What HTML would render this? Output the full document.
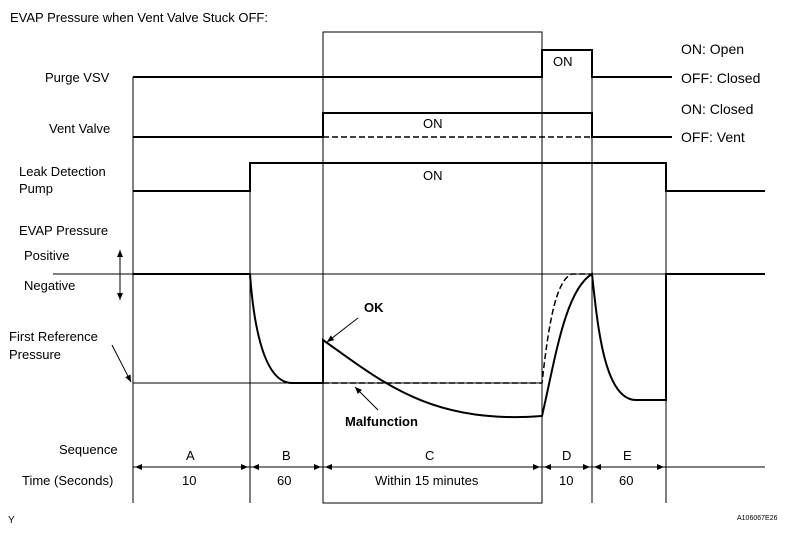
<!DOCTYPE html>
<html><head><style>body{margin:0;background:#fff}svg{display:block}text{font-family:"Liberation Sans",sans-serif;font-size:13px;fill:#000}</style></head><body>
<svg width="791" height="533" viewBox="0 0 791 533">
<defs><marker id="a" markerWidth="8" markerHeight="8" refX="7" refY="4" orient="auto"><path d="M0,1 L7,4 L0,7z" fill="#000"/></marker></defs>
<g stroke="#000" fill="none" stroke-width="1">
<line x1="133" y1="77" x2="133" y2="503"/><line x1="250" y1="190" x2="250" y2="503"/>
<rect x="323" y="32" width="219" height="471"/>
<line x1="592" y1="77" x2="592" y2="503"/><line x1="666" y1="163" x2="666" y2="503"/>
<line x1="133" y1="467" x2="765" y2="467"/>
<line x1="53" y1="274" x2="765" y2="274"/>
<line x1="133" y1="383" x2="542" y2="383"/>
</g>
<g stroke="#000" fill="none" stroke-width="2">
<path d="M133,77 H542 V50 H592 V77 H672"/>
<path d="M133,137 H323 V113 H592 V137 H672"/>
<path d="M323,137 H592" stroke-dasharray="6,3" stroke-width="1.5"/>
<path d="M133,191 H250 V163 H666 V191 H765"/>
<path d="M133,274 H250 C254,330 265,383 292,383 H323 V340 C380,380 430,425 542,416 C555,360 565,290 592,274 C598,330 605,400 636,400 H666 V274 H765"/>
<path d="M323,383 H542 C548,330 555,280 572,274 H592" stroke-dasharray="6,3" stroke-width="1.5"/>
</g>
<g stroke="#000" stroke-width="1">
<line x1="120" y1="262" x2="120" y2="250" marker-end="url(#a)"/><line x1="120" y1="262" x2="120" y2="300" marker-end="url(#a)"/>
<line x1="112" y1="345" x2="131" y2="382" marker-end="url(#a)"/>
<line x1="358" y1="318" x2="327" y2="342" marker-end="url(#a)"/>
<line x1="378" y1="410" x2="355" y2="387" marker-end="url(#a)"/>
<line x1="190" y1="467" x2="135" y2="467" marker-end="url(#a)"/><line x1="190" y1="467" x2="248" y2="467" marker-end="url(#a)"/>
<line x1="286" y1="467" x2="252" y2="467" marker-end="url(#a)"/><line x1="286" y1="467" x2="321" y2="467" marker-end="url(#a)"/>
<line x1="430" y1="467" x2="325" y2="467" marker-end="url(#a)"/><line x1="430" y1="467" x2="540" y2="467" marker-end="url(#a)"/>
<line x1="567" y1="467" x2="544" y2="467" marker-end="url(#a)"/><line x1="567" y1="467" x2="590" y2="467" marker-end="url(#a)"/>
<line x1="628" y1="467" x2="594" y2="467" marker-end="url(#a)"/><line x1="628" y1="467" x2="664" y2="467" marker-end="url(#a)"/>
</g>
<text x="10" y="22">EVAP Pressure when Vent Valve Stuck OFF:</text>
<text x="45" y="82">Purge VSV</text>
<text x="49" y="133">Vent Valve</text>
<text x="19" y="176">Leak Detection</text><text x="19" y="193">Pump</text>
<text x="19" y="235">EVAP Pressure</text>
<text x="24" y="260">Positive</text><text x="24" y="290">Negative</text>
<text x="9" y="341">First Reference</text><text x="9" y="359">Pressure</text>
<text x="59" y="454">Sequence</text><text x="22" y="485">Time (Seconds)</text>
<text x="553" y="66">ON</text><text x="423" y="128">ON</text><text x="423" y="180">ON</text>
<text x="681" y="54" style="font-size:14px">ON: Open</text><text x="681" y="83" style="font-size:14px">OFF: Closed</text>
<text x="681" y="114" style="font-size:14px">ON: Closed</text><text x="681" y="142" style="font-size:14px">OFF: Vent</text>
<text x="364" y="312" font-weight="bold">OK</text>
<text x="345" y="426" font-weight="bold">Malfunction</text>
<text x="186" y="460">A</text><text x="282" y="460">B</text><text x="425" y="460">C</text><text x="562" y="460">D</text><text x="623" y="460">E</text>
<text x="182" y="485">10</text><text x="277" y="485">60</text><text x="375" y="485">Within 15 minutes</text><text x="559" y="485">10</text><text x="619" y="485">60</text>
<text x="8" y="523" style="font-size:10px">Y</text>
<text x="737" y="520" style="font-size:7px">A106067E26</text>
</svg></body></html>
